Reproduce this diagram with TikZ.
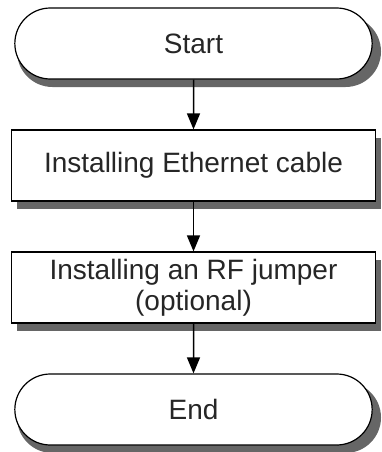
\documentclass[tikz,border=0pt]{standalone}
\usepackage{fontspec}
\setmainfont{Liberation Sans}
\usetikzlibrary{shapes.misc,arrows.meta}

\begin{document}
\begin{tikzpicture}[
  x = 1pt, y = 1pt,
  every node/.style = {font = \fontsize{28}{31}\selectfont, text = black!85},
  termbox/.style = {rounded rectangle, draw, line width = 1.2pt, fill = white,
    minimum width = 364pt, minimum height = 71pt},
  procbox/.style = {rectangle, draw, line width = 1.2pt, fill = white,
    minimum width = 364pt, minimum height = 71pt, align = center},
  flow/.style = {line width = 1.5pt, -{Triangle[length = 16pt, width = 13pt]}},
  dropshade/.style = {fill = black!60}
]
\useasboundingbox (0,0) rectangle (382,-452);

% shadow first, then the box on top of it
\foreach \n/\y/\s/\r/\t in {start/-43.5/termbox/35.5/Start,
    eth/-165.5/procbox/0/Installing Ethernet cable,
    rf/-287.5/procbox/0/{Installing an RF jumper\\(optional)},
    end/-409.5/termbox/35.5/End} {
  \fill[dropshade, rounded corners = \r pt]
    (17,{\y-43.5}) rectangle (381,{\y+27.5});
  \node[\s] (\n) at (193.5,\y) {\t};
}

% connectors
\draw[flow] (start) -- (eth);
\draw[flow] (eth) -- (rf);
\draw[flow] (rf) -- (end);
\end{tikzpicture}
\end{document}
